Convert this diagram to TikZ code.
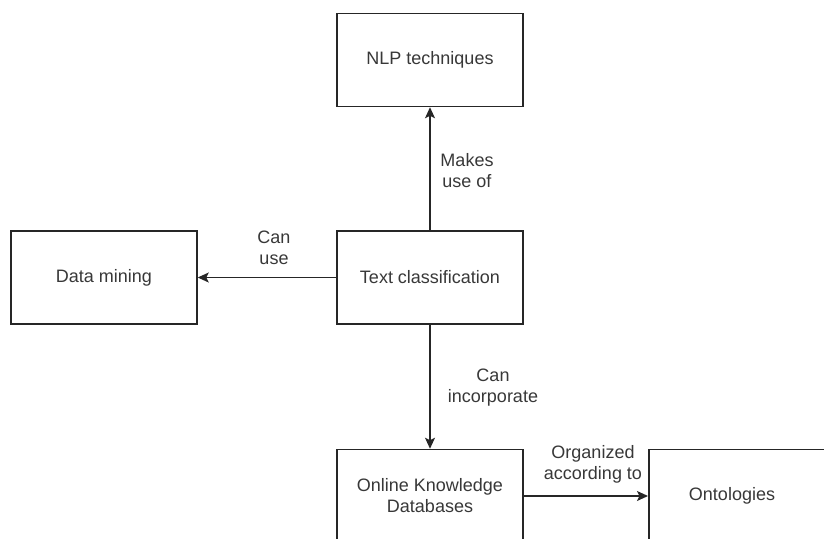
\documentclass[tikz,border=0pt]{standalone}
\usepackage{fontspec}
\setmainfont{Liberation Sans}
\usetikzlibrary{arrows.meta}
\begin{document}
\begin{tikzpicture}[x=1pt,y=-1pt,
  box/.style={draw=black!85, line width=1.5pt, fill=white, minimum width=186pt, minimum height=93pt, inner sep=0pt, align=center, font=\fontsize{18}{21}\selectfont, text=black!78},
  link/.style={draw=black!85, line width=1.5pt, -{Stealth[length=11pt,width=10pt,inset=2.5pt]}},
  lbl/.style={align=center, font=\fontsize{18}{21}\selectfont, text=black!78, inner sep=0pt}]
  \useasboundingbox (0,0) rectangle (824,538);
  \clip (0,0) rectangle (824,538);
  \node[box] (nlp) at (430,60) {NLP techniques};
  \node[box] (tc) at (430,277.5) {Text classification};
  \node[box] (dm) at (104,277.5) {Data mining};
  \node[box] (okd) at (430,496) {Online Knowledge\\Databases};
  \node[box, anchor=west] (ont) at (648,496) {\hspace*{0pt}};
  \node[lbl] (ontt) at (732,496) {Ontologies};
  \draw[link] (tc) -- (nlp);
  \draw[link] (tc) -- (dm);
  \draw[link] (tc) -- (okd);
  \draw[link] (okd) -- (ont);
  \node[lbl] at (467,171) {Makes\\use of};
  \node[lbl] at (274,247.5) {Can\\use};
  \node[lbl] at (493,387.5) {Can\\incorporate};
  \node[lbl] at (593,464.5) {Organized\\according to};
\end{tikzpicture}
\end{document}
